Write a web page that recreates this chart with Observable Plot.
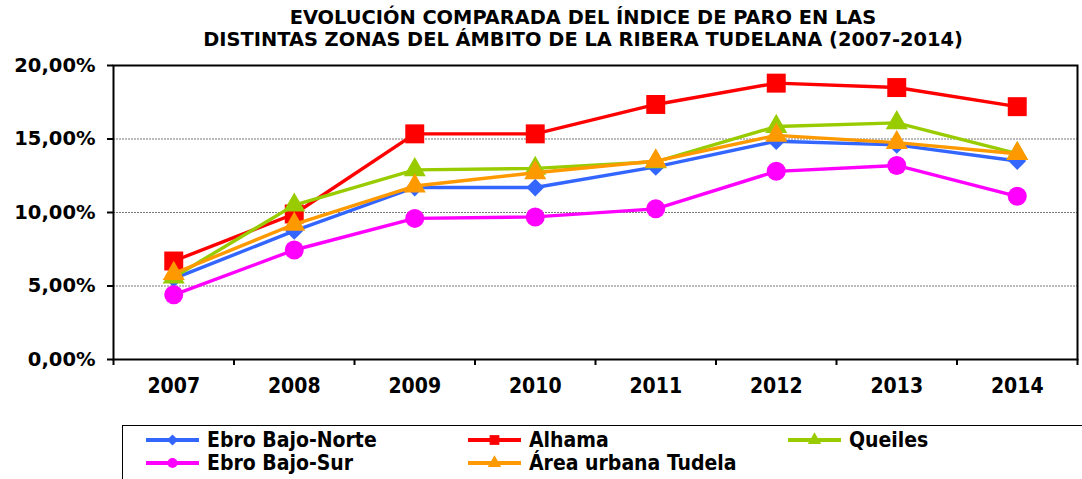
<!DOCTYPE html>
<html>
<head>
<meta charset="utf-8">
<script src="https://cdn.jsdelivr.net/npm/d3@7"></script>
<script src="https://cdn.jsdelivr.net/npm/@observablehq/plot@0.6"></script>
<style>
  body { margin: 0; background: #fff; }
  #wrap { position: relative; width: 1082px; height: 479px; overflow: hidden; background: #fff;
          font-family: "DejaVu Sans Condensed", "DejaVu Sans", sans-serif; font-stretch: condensed; color: #000; }
  #title { height: 56px; box-sizing: border-box; padding-top: 7px; padding-left: 84px; text-align: center;
           font-family: "DejaVu Sans", sans-serif; font-stretch: normal;
           font-weight: bold; font-size: 19.4px; line-height: 22px; white-space: nowrap; }
  #chart svg { display: block; }
  #chart svg g[aria-label="y-axis tick label"] text { font-family: "DejaVu Sans", sans-serif; font-stretch: normal; }
  #legend { position: relative; margin-left: 122px; margin-top: 1px; height: 70px; width: 1000px;
            border: 1.5px solid #000; box-sizing: border-box; }
  .item { position: absolute; height: 24px; display: flex; align-items: center; font-weight: bold; font-size: 21px; white-space: nowrap; }
  .item svg { margin-right: 8px; }
</style>
</head>
<body>
<div id="wrap">
  <div id="title">EVOLUCIÓN COMPARADA DEL ÍNDICE DE PARO EN LAS<br>DISTINTAS ZONAS DEL ÁMBITO DE LA RIBERA TUDELANA (2007-2014)</div>
  <div id="chart"></div>
  <div id="legend"></div>
</div>
<script>
// ---- data ----
const years = [2007, 2008, 2009, 2010, 2011, 2012, 2013, 2014];
const yTicks = [0, 5, 10, 15, 20];
const seriesNames = ["Ebro Bajo-Norte", "Alhama", "Queiles", "Ebro Bajo-Sur", "Área urbana Tudela"];
const ebroBajoNorte = [5.5, 8.75, 11.7, 11.7, 13.1, 14.85, 14.6, 13.5];
const alhama        = [6.7, 9.9, 15.35, 15.35, 17.35, 18.8, 18.5, 17.2];
const queiles       = [5.6, 10.5, 12.9, 13.0, 13.45, 15.85, 16.1, 14.0];
const ebroBajoSur   = [4.4, 7.45, 9.6, 9.7, 10.25, 12.8, 13.2, 11.1];
const areaTudela    = [5.85, 9.2, 11.8, 12.7, 13.5, 15.25, 14.75, 14.0];

const seriesValues = [ebroBajoNorte, alhama, queiles, ebroBajoSur, areaTudela];
const colors  = ["#3366FF", "#FF0000", "#99CC00", "#FF00FF", "#FF9900"];
const symbols = ["diamond2", "square", "triangle", "circle", "triangle"];
const radii   = [8, 10.7, 8.2, 9.5, 8.2];

const rows = seriesNames.flatMap((name, s) => years.map((year, i) => ({ serie: name, s, year, value: seriesValues[s][i] })));
const bounds = [years[0] - 0.5, ...years.map(y => y + 0.5)];
const fmt = d => d.toFixed(2).replace(".", ",") + "%";

const marks = [
  Plot.gridY(yTicks.slice(1, -1), { stroke: "#777", strokeOpacity: 1, strokeWidth: 1, strokeDasharray: "2,1" }),
];
seriesNames.forEach((name, s) => {
  const data = rows.filter(d => d.s === s);
  marks.push(Plot.line(data, { x: "year", y: "value", stroke: colors[s], strokeWidth: 3.4 }));
  marks.push(Plot.dot(data, { x: "year", y: "value", symbol: () => symbols[s], r: radii[s], fill: colors[s], stroke: "none" }));
});
marks.push(
  Plot.frame({ stroke: "#000", strokeWidth: 2 }),
  Plot.axisY(yTicks, { tickSize: 6, tickPadding: 12, fontSize: 19.5, fontWeight: "bold", tickFormat: fmt, strokeWidth: 2 }),
  Plot.axisX(years, { tickSize: 0, tickPadding: 19, fontSize: 21, fontWeight: "bold", tickFormat: d => String(d) }),
  Plot.axisX(bounds, { tickSize: 6, tickFormat: () => "", strokeWidth: 2 })
);

const chart = Plot.plot({
  width: 1082,
  height: 368,
  marginTop: 9,
  marginBottom: 65,
  marginLeft: 113,
  marginRight: 5,
  style: { fontFamily: "'DejaVu Sans Condensed', 'DejaVu Sans', sans-serif", fontStretch: "condensed", color: "#000", background: "#fff", overflow: "visible" },
  x: { type: "linear", domain: [years[0] - 0.5, years[years.length - 1] + 0.5], label: null },
  y: { domain: [yTicks[0], yTicks[yTicks.length - 1]], label: null },
  symbol: { type: "identity" },
  marks
});
document.getElementById("chart").appendChild(chart);

// ---- legend ----
const legend = document.getElementById("legend");
const colX = [23, 345, 665];
const rowY = [14, 37];
const legendSym = { diamond2: 5, square: 5.5, triangle: 5, circle: 5 };
const symMap = { diamond2: d3.symbolDiamond2, square: d3.symbolSquare, triangle: d3.symbolTriangle, circle: d3.symbolCircle };
seriesNames.forEach((name, s) => {
  const item = document.createElement("div");
  item.className = "item";
  item.style.left = colX[s % 3] + "px";
  item.style.top = (rowY[Math.floor(s / 3)] - 12) + "px";
  const svg = d3.create("svg").attr("width", 53).attr("height", 16);
  svg.append("line").attr("x1", 0).attr("x2", 53).attr("y1", 8).attr("y2", 8)
    .attr("stroke", colors[s]).attr("stroke-width", 4);
  const r = legendSym[symbols[s]];
  svg.append("path").attr("transform", "translate(26.5,8)")
    .attr("d", d3.symbol(symMap[symbols[s]], Math.PI * r * r)())
    .attr("fill", colors[s]);
  item.appendChild(svg.node());
  const span = document.createElement("span");
  span.textContent = name;
  item.appendChild(span);
  legend.appendChild(item);
});
</script>
</body>
</html>
